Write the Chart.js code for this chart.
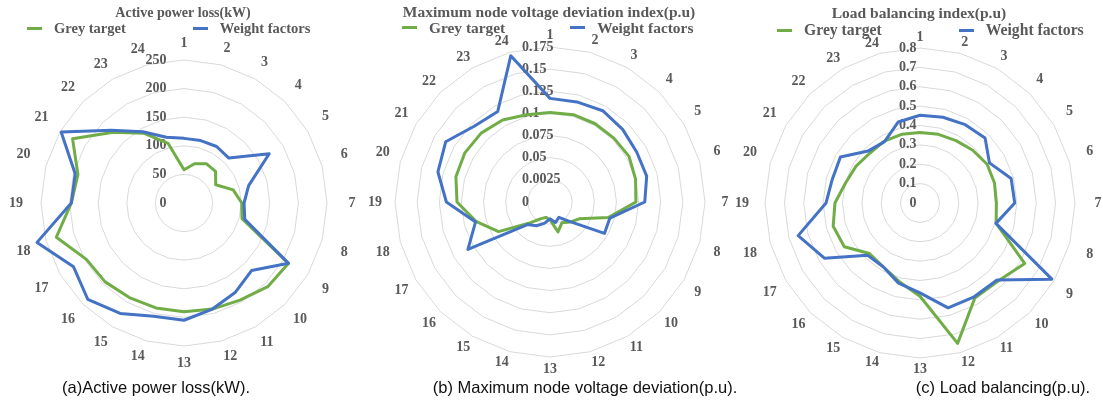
<!DOCTYPE html>
<html lang="en">
<head>
  <meta charset="UTF-8" />
  <title>Radar comparison</title>
  <script src="https://cdn.jsdelivr.net/npm/chart.js"></script>
  <style>
    html, body {
      margin: 0;
      padding: 0;
      width: 1103px;
      height: 401px;
      overflow: hidden;
      background: #fff;
    }
    canvas {
      position: absolute;
      top: 0;
    }
    .legend {
      position: absolute;
      display: flex;
      align-items: center;
      height: 18px;
      font-family: 'Liberation Serif', 'Times New Roman', serif;
      font-weight: bold;
      color: #595959;
      white-space: nowrap;
    }
    .legend .item {
      display: flex;
      align-items: center;
    }
    .legend .mark {
      width: 15px;
      height: 3px;
      margin-right: 12px;
    }
    .caption {
      position: absolute;
      top: 377px;
      transform: translateX(-50%);
      font-family: 'Liberation Sans', Arial, sans-serif;
      font-size: 16.5px;
      line-height: 20px;
      color: #111;
      white-space: nowrap;
    }
  </style>
</head>
<body>
  <canvas id="lossChart" width="368" height="401" style="left:0px"></canvas>
  <canvas id="devChart" width="380" height="401" style="left:360px"></canvas>
  <canvas id="balChart" width="376" height="401" style="left:731px"></canvas>

  <div class="legend" id="lossLegend"></div>
  <div class="legend" id="devLegend"></div>
  <div class="legend" id="balLegend"></div>

  <div class="caption" style="left:156px">(a)Active power loss(kW).</div>
  <div class="caption" style="left:585px">(b) Maximum node voltage deviation(p.u).</div>
  <div class="caption" style="left:1003px">(c) Load balancing(p.u).</div>

  <script>
    const nodes = ['1', '2', '3', '4', '5', '6', '7', '8', '9', '10', '11', '12',
                   '13', '14', '15', '16', '17', '18', '19', '20', '21', '22', '23', '24'];

    // (a) active power loss, kW
    const lossGrey   = [58, 71, 79, 78, 64, 89, 101, 105, 211, 207, 196, 192, 190, 190, 191, 195, 197, 231, 197, 192, 225, 175, 141, 108];
    const lossWeight = [113, 113, 114, 111, 172, 117, 105, 110, 211, 167, 180, 192, 205, 205, 223, 238, 223, 266, 197, 197, 248, 180, 144, 119];
    const lossTicks  = ['0', '50', '100', '150', '200', '250'];

    // (b) maximum node voltage deviation, p.u
    const devGrey   = [0.101, 0.102, 0.102, 0.102, 0.103, 0.100, 0.097, 0.068, 0.038, 0.032, 0.027, 0.035,
                       0.020, 0.018, 0.022, 0.034, 0.067, 0.086, 0.105, 0.110, 0.111, 0.110, 0.107, 0.102];
    const devWeight = [0.117, 0.117, 0.119, 0.116, 0.113, 0.113, 0.107, 0.070, 0.071, 0.031, 0.020, 0.024,
                       0.019, 0.025, 0.031, 0.036, 0.107, 0.087, 0.117, 0.131, 0.136, 0.121, 0.118, 0.171];
    const devTicks  = ['0', '0.0025', '0.05', '0.075', '0.1', '0.125', '0.15', '0.175'];

    // (c) load balancing index, p.u
    const balGrey   = [0.364, 0.367, 0.372, 0.385, 0.400, 0.398, 0.394, 0.407, 0.624, 0.570, 0.566, 0.750,
                       0.481, 0.419, 0.380, 0.369, 0.451, 0.464, 0.439, 0.398, 0.381, 0.365, 0.369, 0.367];
    const balWeight = [0.453, 0.458, 0.467, 0.475, 0.414, 0.487, 0.489, 0.406, 0.786, 0.562, 0.559, 0.560,
                       0.464, 0.428, 0.380, 0.382, 0.570, 0.651, 0.485, 0.469, 0.474, 0.379, 0.366, 0.433];
    const balTicks  = ['0', '0.1', '0.2', '0.3', '0.4', '0.5', '0.6', '0.7', '0.8'];

    const GREEN = '#70ad47';
    const BLUE = '#4472c4';
    const GRID = '#d9d9d9';
    const TEXT = '#595959';
    const SERIF = "'Liberation Serif', 'Times New Roman', serif";

    // pad tick text with trailing spaces so the centred label lines up like the original
    // (widths counted in half-digit units: a space and a '.' are half a digit wide)
    function tickText(label, align, shift) {
      const units = [...label].reduce((n, ch) => n + (ch === '.' ? 1 : 2), 0);
      const n = align === 'right' ? units - shift : shift - units;
      return label + ' '.repeat(Math.max(0, Math.round(n)));
    }

    // point labels sit a little further out at the sides than at top and bottom
    function labelPad(base, bulge) {
      return ctx => {
        const a = ctx.index * Math.PI / 12;
        const s = Math.abs(Math.sin(a));
        const c = Math.abs(Math.cos(a));
        const w = 7 * nodes[ctx.index].length;
        return base + bulge * s * s - s * w / 2 - c * 7;
      };
    }

    const htmlLegend = {
      id: 'htmlLegend',
      afterUpdate(chart, args, opts) {
        const box = document.getElementById(opts.containerID);
        box.style.left = opts.left + 'px';
        box.style.top = (opts.y - 9) + 'px';
        box.style.fontSize = opts.size + 'px';
        box.innerHTML = '';
        const items = Chart.defaults.plugins.legend.labels.generateLabels(chart)
          .sort((a, b) => a.datasetIndex - b.datasetIndex);
        items.forEach((item, i) => {
          const el = document.createElement('div');
          el.className = 'item';
          if (i > 0) el.style.marginLeft = opts.gap + 'px';
          const mark = document.createElement('span');
          mark.className = 'mark';
          mark.style.background = item.strokeStyle;
          const txt = document.createElement('span');
          txt.textContent = item.text;
          el.appendChild(mark);
          el.appendChild(txt);
          box.appendChild(el);
        });
      }
    };

    function makeRadar(id, cfg) {
      return new Chart(document.getElementById(id), {
        type: 'radar',
        data: {
          labels: nodes,
          datasets: [
            {
              label: 'Grey target',
              data: cfg.grey,
              borderColor: GREEN,
              backgroundColor: GREEN,
              borderWidth: 3,
              borderJoinStyle: 'round',
              fill: false,
              pointRadius: 0,
              pointHoverRadius: 0,
              order: 1
            },
            {
              label: 'Weight factors',
              data: cfg.weight,
              borderColor: BLUE,
              backgroundColor: BLUE,
              borderWidth: 3,
              borderJoinStyle: 'round',
              fill: false,
              pointRadius: 0,
              pointHoverRadius: 0,
              order: 0
            }
          ]
        },
        options: {
          responsive: false,
          animation: false,
          layout: { padding: cfg.padding },
          plugins: {
            legend: { display: false },
            tooltip: { enabled: false },
            title: {
              display: true,
              text: cfg.title,
              color: TEXT,
              font: { family: SERIF, size: cfg.titleSize, weight: 'bold', lineHeight: 1.2 },
              padding: cfg.titlePad
            },
            htmlLegend: cfg.legend
          },
          scales: {
            r: {
              min: -cfg.max * 1e-6,
              max: cfg.max,
              angleLines: { display: false },
              grid: { color: GRID, lineWidth: 1, circular: false },
              ticks: {
                stepSize: cfg.step,
                showLabelBackdrop: false,
                backdropPadding: 0,
                color: TEXT,
                font: { family: SERIF, size: 14, weight: 'bold' },
                callback: (v, i) => tickText(cfg.ticks[i] || '', cfg.tickAlign, cfg.tickShift)
              },
              pointLabels: {
                color: TEXT,
                font: { family: SERIF, size: 14, weight: 'bold', lineHeight: 1 },
                padding: labelPad(cfg.labelBase, cfg.labelBulge)
              }
            }
          }
        },
        plugins: [htmlLegend]
      });
    }

    makeRadar('lossChart', {
      title: 'Active power loss(kW)',
      titleSize: 14,
      titlePad: { top: 5, bottom: 14.2 },
      padding: { left: 0, right: 2, top: 0, bottom: 31 },
      grey: lossGrey, weight: lossWeight, ticks: lossTicks,
      max: 250, step: 50,
      tickAlign: 'right', tickShift: -10,
      labelBase: 10, labelBulge: 8,
      legend: { containerID: 'lossLegend', left: 27, y: 28.3, size: 14.5, gap: 67 }
    });

    makeRadar('devChart', {
      title: 'Maximum node voltage deviation index(p.u)',
      titleSize: 15.5,
      titlePad: { top: 4, bottom: 5.4 },
      padding: { left: 0, right: 2, top: 0, bottom: 25 },
      grey: devGrey, weight: devWeight, ticks: devTicks,
      max: 0.175, step: 0.025,
      tickAlign: 'left', tickShift: 16,
      labelBase: 5, labelBulge: 8,
      legend: { containerID: 'devLegend', left: 402, y: 27.7, size: 15.4, gap: 65 }
    });

    makeRadar('balChart', {
      title: 'Load balancing index(p.u)',
      titleSize: 15.5,
      titlePad: { top: 4.7, bottom: 6.7 },
      padding: { left: 0, right: 0, top: 0, bottom: 25 },
      grey: balGrey, weight: balWeight, ticks: balTicks,
      max: 0.8, step: 0.1,
      tickAlign: 'right', tickShift: -2,
      labelBase: 4, labelBulge: 12,
      legend: { containerID: 'balLegend', left: 777, y: 30, size: 15.7, gap: 77 }
    });
  </script>
</body>
</html>
